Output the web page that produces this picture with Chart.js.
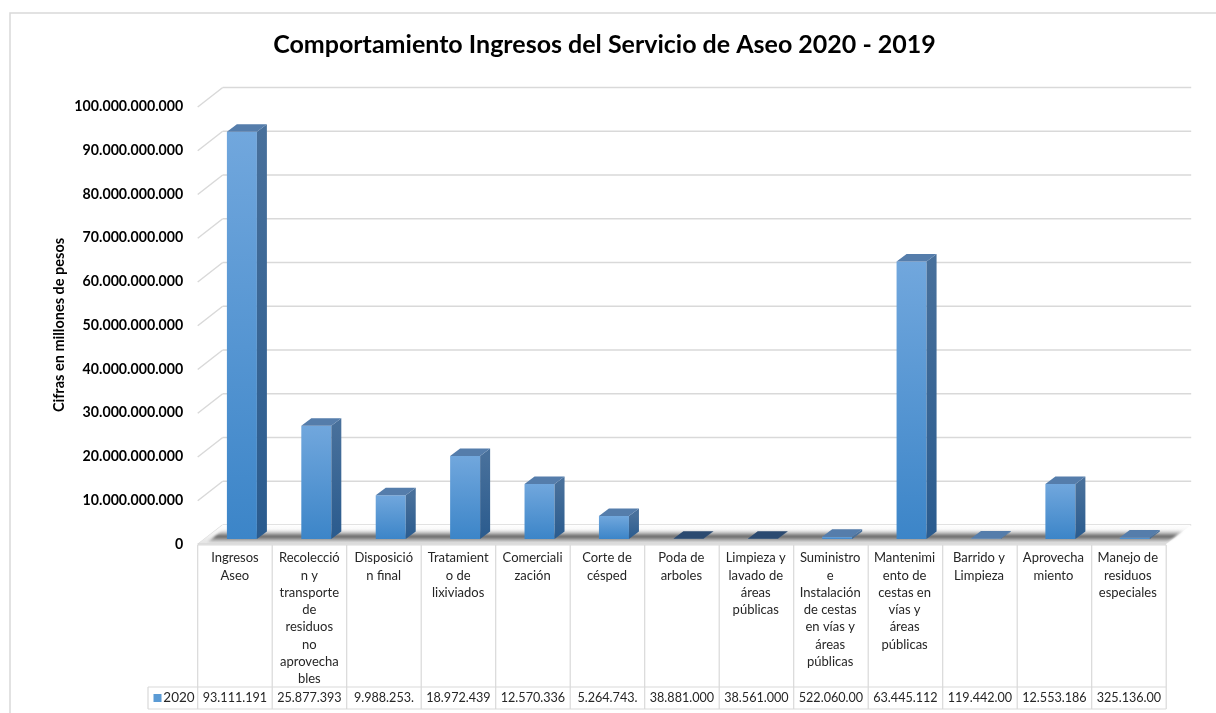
<!DOCTYPE html>
<html>
<head>
<meta charset="utf-8">
<title>Comportamiento Ingresos</title>
<script src="https://cdn.jsdelivr.net/npm/chart.js@4"></script>
<style>
    body { margin: 0; background: #fff; }
    canvas { display: block; }
</style>
</head>
<body>
<canvas id="ingresosChart" width="1216" height="713"></canvas>
<script>
const categories = [
    ['Ingresos', 'Aseo'],
    ['Recolecció', 'n y', 'transporte', 'de', 'residuos', 'no', 'aprovecha', 'bles'],
    ['Disposició', 'n final'],
    ['Tratamient', 'o de', 'lixiviados'],
    ['Comerciali', 'zación'],
    ['Corte de', 'césped'],
    ['Poda de', 'arboles'],
    ['Limpieza y', 'lavado de', 'áreas', 'públicas'],
    ['Suministro', 'e', 'Instalación', 'de cestas', 'en vías y', 'áreas', 'públicas'],
    ['Mantenimi', 'ento de', 'cestas en', 'vías y', 'áreas', 'públicas'],
    ['Barrido y', 'Limpieza'],
    ['Aprovecha', 'miento'],
    ['Manejo de', 'residuos', 'especiales']
];
const values2020 = [
    93111191000, 25877393000, 9988253000, 18972439000, 12570336000, 5264743000, 38881000,
    38561000, 522060000, 63445112000, 119442000, 12553186000, 325136000
];
// the table cells cut the numbers off, same as the original
const tableLabels = [
    '93.111.191', '25.877.393', '9.988.253.', '18.972.439', '12.570.336', '5.264.743.', '38.881.000',
    '38.561.000', '522.060.00', '63.445.112', '119.442.00', '12.553.186', '325.136.00'
];
const tickLabels = [
    '0', '10.000.000.000', '20.000.000.000', '30.000.000.000', '40.000.000.000', '50.000.000.000',
    '60.000.000.000', '70.000.000.000', '80.000.000.000', '90.000.000.000', '100.000.000.000'
];
const seriesName = '2020';
const chartTitle = 'Comportamiento Ingresos del Servicio de Aseo 2020 - 2019';
const yAxisTitle = 'Cifras en millones de pesos';

const FONT = 'Lato, Carlito, Calibri, sans-serif';
const GRID = '#d9d9d9';
const DEPTH_X = 10, DEPTH_Y = 7.5;      // bar side / top faces
const WALL_X = 25, WALL_Y = 14;         // back wall, relative to the bars
const TABLE_LEFT = 197.7, CELL_W = 74.5, LEGEND_LEFT = 148;
const TABLE_TOP = 545, ROW_TOP = 687, TABLE_BOTTOM = 709;

function vGradient(ctx, y0, y1, top, bottom) {
    const g = ctx.createLinearGradient(0, y0, 0, y1);
    g.addColorStop(0, top);
    g.addColorStop(1, bottom);
    return g;
}

function line(ctx, x0, y0, x1, y1) {
    ctx.beginPath();
    ctx.moveTo(x0, y0);
    ctx.lineTo(x1, y1);
    ctx.stroke();
}

function poly(ctx, pts, fill) {
    ctx.beginPath();
    pts.forEach((p, i) => (i ? ctx.lineTo(p[0], p[1]) : ctx.moveTo(p[0], p[1])));
    ctx.closePath();
    ctx.fillStyle = fill;
    ctx.fill();
}

const backdrop = {
    id: 'backdrop',
    beforeDraw(chart) {
        const ctx = chart.ctx;
        ctx.save();
        ctx.strokeStyle = GRID;
        ctx.lineWidth = 1.5;
        ctx.beginPath();
        ctx.moveTo(10, 713);
        ctx.lineTo(10, 13);
        ctx.lineTo(1216, 13);
        ctx.stroke();
        ctx.restore();
    },
    beforeDatasetsDraw(chart) {
        const ctx = chart.ctx;
        const y = chart.scales.y;
        const left = TABLE_LEFT, right = TABLE_LEFT + CELL_W * categories.length;
        ctx.save();
        ctx.strokeStyle = GRID;
        ctx.lineWidth = 1.5;
        y.ticks.forEach(t => {
            const py = y.getPixelForValue(t.value) - WALL_Y;
            line(ctx, left, py + 19.5, left + WALL_X, py);
            line(ctx, left + WALL_X, py, right + WALL_X, py);
        });

        // floor with its shadow under the bars
        const back = y.getPixelForValue(0) - WALL_Y;
        const front = back + 19;
        poly(ctx, [[left, front], [left + WALL_X, back], [right + WALL_X, back], [right, front]],
            vGradient(ctx, back, front, '#ffffff', '#e4e4e4'));
        const shadow = ctx.createLinearGradient(0, back + 5, 0, front - 2);
        shadow.addColorStop(0, 'rgba(120,120,120,0)');
        shadow.addColorStop(0.55, 'rgba(60,60,60,0.8)');
        shadow.addColorStop(1, 'rgba(150,150,150,0.3)');
        ctx.filter = 'blur(1.2px)';
        poly(ctx, [[left + 10, front - 2], [left + 25, back + 5], [right + 18, back + 5], [right + 1, front - 2]], shadow);
        ctx.filter = 'none';
        line(ctx, left, front, right, front);
        ctx.restore();
    },
    afterDatasetsDraw(chart) {
        const ctx = chart.ctx;
        chart.getDatasetMeta(0).data.forEach((bar, i) => {
            const l = bar.x - bar.width / 2, r = bar.x + bar.width / 2;
            poly(ctx, [[r, bar.y], [r + DEPTH_X, bar.y - DEPTH_Y], [r + DEPTH_X, bar.base - DEPTH_Y], [r, bar.base]],
                vGradient(ctx, bar.y, bar.base, '#48709b', '#2a5b8e'));
            // the two smallest bars sink into the shadow
            const topColor = values2020[i] < 1e8 ? '#2b4a70' : '#557dab';
            poly(ctx, [[l, bar.y], [l + DEPTH_X, bar.y - DEPTH_Y], [r + DEPTH_X, bar.y - DEPTH_Y], [r, bar.y]], topColor);
        });
    },
    afterDraw(chart) {
        const ctx = chart.ctx;
        const n = categories.length;
        ctx.save();

        // data table grid
        ctx.strokeStyle = GRID;
        ctx.lineWidth = 1.2;
        for (let i = 0; i <= n; i++) {
            const x = TABLE_LEFT + i * CELL_W;
            line(ctx, x, TABLE_TOP, x, TABLE_BOTTOM);
        }
        line(ctx, LEGEND_LEFT, ROW_TOP, TABLE_LEFT + n * CELL_W, ROW_TOP);
        line(ctx, LEGEND_LEFT, TABLE_BOTTOM, TABLE_LEFT + n * CELL_W, TABLE_BOTTOM);
        line(ctx, LEGEND_LEFT, ROW_TOP, LEGEND_LEFT, TABLE_BOTTOM);
        line(ctx, TABLE_LEFT, TABLE_TOP, TABLE_LEFT + n * CELL_W, TABLE_TOP);

        // value row + legend key
        ctx.fillStyle = '#262626';
        ctx.font = '12.6px ' + FONT;
        ctx.textAlign = 'center';
        ctx.textBaseline = 'middle';
        tableLabels.forEach((txt, i) => ctx.fillText(txt, TABLE_LEFT + (i + 0.5) * CELL_W, 697.5));
        ctx.font = '13.5px ' + FONT;
        ctx.fillText(seriesName, 179, 697.5);
        ctx.fillStyle = '#5b9bd5';
        ctx.fillRect(153.5, 694, 8, 8);

        // y axis title, sits a bit below the centre of the plot
        ctx.translate(59, 325);
        ctx.rotate(-Math.PI / 2);
        ctx.fillStyle = '#000';
        ctx.font = 'bold 14.5px ' + FONT;
        ctx.fillText(yAxisTitle, 0, 0);
        ctx.restore();
    }
};

new Chart(document.getElementById('ingresosChart').getContext('2d'), {
    type: 'bar',
    data: {
        labels: categories,
        datasets: [{
            label: seriesName,
            data: values2020,
            barThickness: 30,
            inflateAmount: 0,
            borderWidth: 0,
            backgroundColor(context) {
                const chart = context.chart;
                if (!chart.chartArea || context.dataIndex === undefined) return '#5b9bd5';
                const y = chart.scales.y;
                return vGradient(chart.ctx, y.getPixelForValue(context.raw), y.getPixelForValue(0), '#71a7dd', '#3c85c8');
            }
        }]
    },
    options: {
        responsive: false,
        animation: false,
        layout: {
            padding: { left: 37, right: 44, top: 0, bottom: 0 }
        },
        plugins: {
            legend: { display: false },
            tooltip: { enabled: false },
            title: {
                display: true,
                text: chartTitle,
                color: '#000',
                font: { family: FONT, size: 25, weight: 'bold', lineHeight: 1.2 },
                padding: { top: 30, bottom: 41.5 }
            }
        },
        scales: {
            x: {
                grid: { display: false, drawTicks: false },
                border: { display: false },
                afterFit(scale) { scale.height = 174; },
                ticks: {
                    color: '#262626',
                    font: { family: FONT, size: 13, lineHeight: 1.33 },
                    padding: 10.5,
                    labelOffset: -7,
                    maxRotation: 0,
                    minRotation: 0,
                    autoSkip: false
                }
            },
            y: {
                min: 0,
                max: 100000000000,
                grid: { display: false, drawTicks: false },
                border: { display: false },
                afterFit(scale) { scale.width = 167.7; },
                ticks: {
                    stepSize: 10000000000,
                    color: '#000',
                    font: { family: FONT, size: 14.2, weight: 'bold' },
                    padding: 21.5,
                    labelOffset: 5,
                    callback: (value, index) => tickLabels[index]
                }
            }
        }
    },
    plugins: [backdrop]
});
</script>
</body>
</html>
